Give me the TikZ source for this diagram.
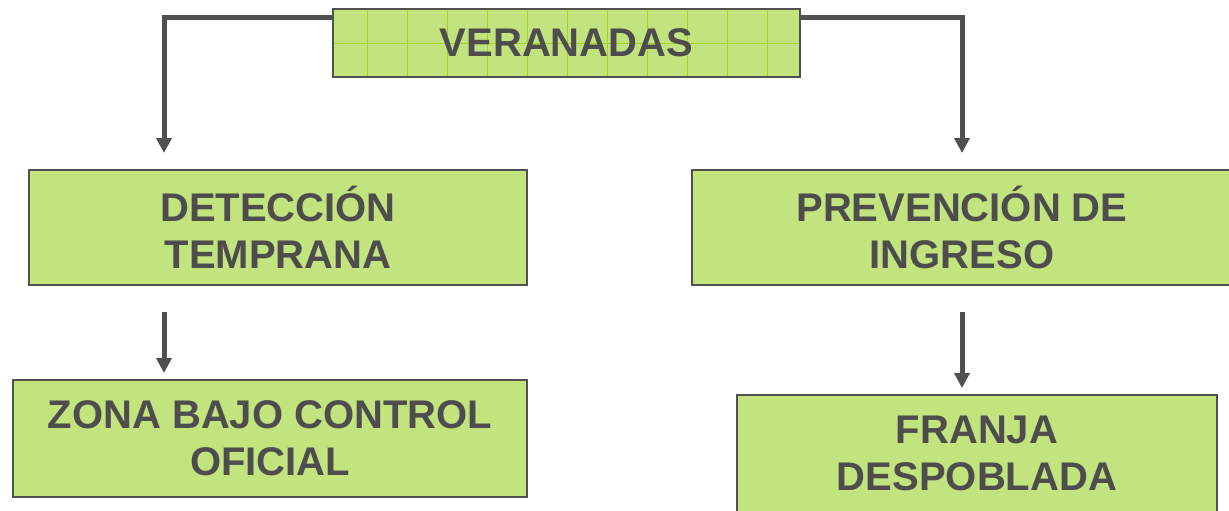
\documentclass[tikz,border=0pt]{standalone}
\usepackage{fontspec}
\setmainfont{Liberation Sans}
\usetikzlibrary{arrows.meta,calc}
\definecolor{boxfill}{HTML}{C2E37E}
\definecolor{gridgreen}{HTML}{A4D41A}
\definecolor{edge}{HTML}{505050}
\definecolor{txt}{HTML}{4D4D4D}
\begin{document}
\begin{tikzpicture}[x=1pt,y=-1pt,
  box/.style={draw=edge, line width=2.5pt, fill=boxfill, inner sep=0pt, align=center,
    text=txt, font=\bfseries\fontsize{40}{47}\selectfont},
  gridbox/.style={path picture={
    \foreach \k in {0,...,10}
      \draw[gridgreen,line width=0.9pt]
        ([xshift=34.7pt+40pt*\k]path picture bounding box.north west) --
        ([xshift=34.7pt+40pt*\k]path picture bounding box.south west);
    \draw[gridgreen,line width=0.9pt] (path picture bounding box.west) -- (path picture bounding box.east);}},
  conn/.style={draw=edge, line width=5pt, -{Triangle[width=15pt,length=15pt]}}]
\useasboundingbox (0,0) rectangle (1229,511);
\node[box, gridbox, minimum width=467pt, minimum height=68pt] (ver) at (566.5,43) {VERANADAS};
\node[box, minimum width=498pt, minimum height=115pt] (det) at (278,227.5) {DETECCIÓN\\TEMPRANA};
\node[box, minimum width=540pt, minimum height=115pt] (pre) at (962,227.5) {PREVENCIÓN DE\\INGRESO};
\node[box, minimum width=514pt, minimum height=117pt] (zona) at (270,438.5) {ZONA BAJO CONTROL\\OFICIAL};
\node[box, minimum width=480pt, minimum height=117pt] (fra) at (977,453.5) {FRANJA\\DESPOBLADA};
\coordinate (tl) at (164,153);
\coordinate (tr) at (962,153);
\draw[conn] ($(ver.north west)+(0,10)$) -| (tl);
\draw[conn] ($(ver.north east)+(0,10)$) -| (tr);
\coordinate (la) at (164,312);
\coordinate (lb) at (164,373);
\coordinate (ra) at (962,312);
\coordinate (rb) at (962,388);
\draw[conn] (la) -- (lb);
\draw[conn] (ra) -- (rb);
\end{tikzpicture}
\end{document}
